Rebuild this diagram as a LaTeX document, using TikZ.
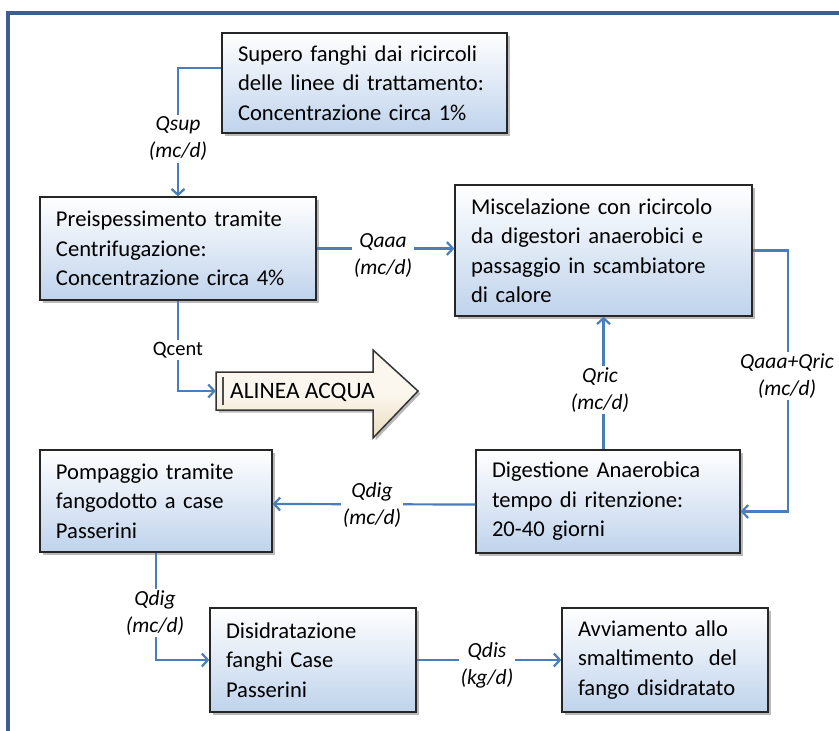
\documentclass[tikz,border=0pt]{standalone}
\usepackage{fontspec}
\setmainfont{Carlito}
\usetikzlibrary{shadows,arrows.meta,calc}
\definecolor{framec}{HTML}{3E5F8E}
\definecolor{flowc}{HTML}{4A7EBB}
\definecolor{boxbot}{HTML}{BFD3EC}
\definecolor{beigetop}{HTML}{FBF7EE}
\definecolor{beigebot}{HTML}{EADCBD}
\hyphenpenalty=10000
\exhyphenpenalty=10000
\begin{document}
\begin{tikzpicture}[x=1pt,y=-1pt,
  box/.style={draw=black!85, line width=1.3pt, top color=white, bottom color=boxbot,
    align=left, inner xsep=16pt, inner ysep=0pt,
    font=\fontsize{22.6}{29.5}\selectfont,
    drop shadow={shadow xshift=2.5pt,shadow yshift=-2.5pt,opacity=0.45,fill=black!60}},
  flow/.style={draw=flowc, line width=2.2pt, -{Straight Barb[length=6pt,width=13pt]}},
  qlab/.style={fill=white, inner sep=2pt, align=center, font=\fontsize{21.5}{27}\selectfont\itshape},
  frame/.style={draw=framec, line width=4pt}]
\useasboundingbox (0,0) rectangle (839,731);
\draw[frame] (8,760) -- (8,13) -- (860,13);

\node[box, minimum width=285pt, minimum height=100pt, text width=253pt] (sup) at (364.5,83)
  {Supero fanghi dai ricircoli\\delle linee di trattamento:\\Concentrazione circa 1\%};
\node[box, minimum width=276pt, minimum height=103pt, text width=244pt] (pre) at (178,248.5)
  {Preispessimento tramite\\Centrifugazione:\\Concentrazione circa 4\%};
\node[box, minimum width=297pt, minimum height=131pt, text width=265pt] (mis) at (603.5,250.5)
  {Miscelazione con ricircolo\\da digestori anaerobici e\\passaggio in scambiatore\\di calore};
\node[box, minimum width=264pt, minimum height=103pt, text width=232pt] (dig) at (608,501.5)
  {Digestione Anaerobica\\tempo di ritenzione:\\20-40 giorni};
\node[box, minimum width=232pt, minimum height=102pt, text width=200pt] (pom) at (156,501)
  {Pompaggio tramite\\fangodotto a case\\Passerini};
\node[box, minimum width=206pt, minimum height=104pt, text width=174pt] (dis) at (313,660)
  {Disidratazione\\fanghi Case\\Passerini};
\node[box, minimum width=206pt, minimum height=104pt, text width=174pt] (avv) at (665,660)
  {Avviamento allo\\smaltimento\ \ del\\fango disidratato};

% ALINEA ACQUA arrow
\fill[black!60, opacity=0.45, xshift=2.5pt, yshift=-2.5pt]
  (216,372) -- (373,372) -- (373,350) -- (418,391) -- (373,438) -- (373,410) -- (216,410) -- cycle;
\draw[draw=black!80, line width=1.5pt, top color=beigetop, bottom color=beigebot, middle color=beigetop]
  (216,372) -- (373,372) -- (373,350) -- (418,391) -- (373,438) -- (373,410) -- (216,410) -- cycle;
\draw[black!70, line width=1.2pt] (223,377) -- (223,405);
\node[inner sep=0pt, minimum width=157pt, minimum height=38pt] (alinea) at (294.5,391) {};
\node[inner sep=0pt, anchor=west, font=\fontsize{23.5}{25}\selectfont] (alineatxt) at (230,392) {ALINEA ACQUA};

% connectors
\draw[flow] ([yshift=15pt]sup.west) -| (pre.north);
\node[qlab] (lsup) at (178,139) {Qsup\\(mc/d)};

\draw[flow] (pre.east) -- (pre.east -| mis.west);
\node[qlab] (laaa) at (383,256) {Qaaa\\(mc/d)};

\draw[flow] (pre.south) |- (alinea.west);
\node[fill=white, inner sep=2pt, font=\fontsize{20.5}{22}\selectfont] (lcent) at (178,350) {Qcent};

\draw[flow] (mis.east) -- ++(35,0) |- ([yshift=-10pt]dig.east);
\node[qlab] (laq) at (787,376) {Qaaa+Qric\\(mc/d)};

\draw[flow] (mis.south |- dig.north) -- (mis.south);
\node[qlab] (lric) at (600,390) {Qric\\(mc/d)};

\draw[flow] ([yshift=-3pt]dig.west) -- ([yshift=-3pt]pom.east);
\node[qlab] (ldig) at (372,505) {Qdig\\(mc/d)};

\draw[flow] (pom.south) |- (dis.west);
\node[qlab] (ldig2) at (155,613) {Qdig\\(mc/d)};

\draw[flow] (dis.east) -- (avv.west);
\node[qlab] (ldis) at (487,665) {Qdis\\(kg/d)};
\end{tikzpicture}
\end{document}
